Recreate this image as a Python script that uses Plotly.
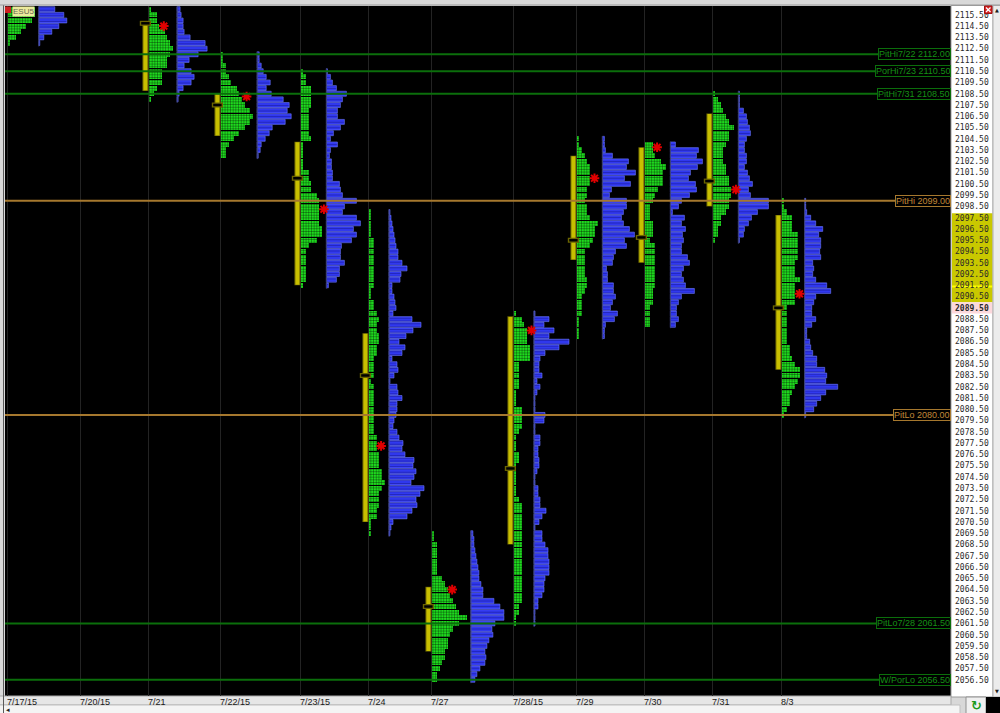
import plotly.graph_objects as go

# ---------------- data ----------------
dates = ["7/17/15", "7/20/15", "7/21", "7/22/15", "7/23/15", "7/24", "7/27",
         "7/28/15", "7/29", "7/30", "7/31", "8/3"]
# session start positions on the (time) x axis
session_x = [7, 80, 148, 220, 300, 368, 431, 513, 576, 644, 712, 781]

profile_days = ["7/17/15", "7/21", "7/22/15", "7/23/15", "7/24", "7/27",
                "7/28/15", "7/29", "7/30", "7/31", "8/3"]
profile_top = [2116.0, 2116.0, 2112.0, 2110.5, 2098.0, 2069.5,
               2089.0, 2104.5, 2104.0, 2108.5, 2099.0]

# TPO counts (green) and volume (blue) per 0.50 price row, from top to bottom
tpo_0717 = [10, 10, 9, 7, 5, 3, 1]
vol_0717 = [16, 25, 28, 20, 13, 5, 1]
tpo_0721 = [1, 3, 3, 4, 6, 7, 8, 9, 8, 7, 7, 5, 5, 5, 3, 2, 1]
vol_0721 = [3, 4, 6, 6, 7, 13, 28, 30, 21, 12, 7, 14, 17, 14, 6, 2, 1]
tpo_0722 = [1, 1, 2, 2, 3, 4, 6, 7, 8, 9, 11, 12, 11, 9, 7, 5, 3, 2, 2]
vol_0722 = [2, 2, 4, 6, 9, 13, 9, 14, 26, 32, 30, 34, 28, 15, 12, 8, 4, 3, 1]
tpo_0723 = [1, 2, 2, 4, 4, 4, 4, 3, 3, 3, 3, 3, 4, 1, 1, 1, 1, 1, 3, 3,
            4, 4, 6, 7, 7, 7, 7, 7, 8, 8, 6, 3, 2, 2, 2, 2, 2, 2, 1]
vol_0723 = [1, 4, 6, 10, 20, 16, 14, 11, 11, 18, 14, 7, 4, 11, 4, 3, 5, 5, 6, 6,
            13, 14, 16, 30, 18, 16, 30, 34, 27, 30, 25, 15, 14, 14, 18, 13, 13, 10, 2]
tpo_0724 = [1, 1, 1, 1, 1, 2, 2, 2, 2, 2, 2, 2, 2, 2, 1, 1, 2, 2, 3, 4,
            3, 3, 4, 4, 3, 3, 2, 2, 2, 2, 1, 2, 2, 2, 2, 2, 2, 2, 2, 2,
            3, 3, 3, 4, 4, 4, 5, 5, 6, 5, 4, 4, 4, 3, 3, 1, 1, 1]
vol_0724 = [1, 2, 3, 4, 5, 6, 7, 9, 9, 13, 18, 12, 11, 3, 3, 5, 6, 7, 4, 23,
            32, 24, 17, 10, 16, 13, 3, 8, 9, 5, 1, 8, 9, 13, 8, 8, 7, 5, 4, 8,
            10, 14, 13, 16, 25, 24, 27, 25, 22, 35, 31, 27, 28, 23, 18, 4, 2, 1]
tpo_0727 = [1, 1, 2, 2, 2, 2, 2, 2, 4, 5, 6, 7, 8, 9, 10, 13, 10, 8, 7, 6,
            6, 5, 5, 4, 3, 2, 2]
vol_0727 = [2, 3, 3, 4, 5, 6, 7, 8, 8, 10, 12, 12, 23, 29, 33, 33, 24, 21, 22, 18,
            16, 14, 15, 14, 9, 6, 4]
tpo_0728 = [1, 3, 4, 5, 5, 5, 6, 6, 6, 2, 2, 2, 2, 2, 1, 1, 1, 3, 3, 3,
            3, 2, 1, 1, 1, 2, 2, 1, 1, 1, 1, 1, 1, 2, 3, 3, 3, 3, 3, 3,
            3, 3, 3, 3, 3, 3, 3, 3, 3, 3, 3, 3, 2, 2, 1, 1]
vol_0728 = [1, 15, 10, 20, 15, 35, 25, 11, 6, 5, 5, 8, 3, 6, 3, 1, 1, 1, 11, 10,
            1, 1, 6, 6, 4, 4, 5, 5, 3, 1, 1, 4, 4, 6, 6, 12, 8, 5, 1, 8,
            8, 11, 14, 14, 15, 15, 15, 11, 10, 10, 8, 4, 4, 1, 1, 1]
tpo_0729 = [1, 1, 2, 3, 4, 5, 5, 5, 5, 4, 4, 3, 4, 4, 5, 8, 7, 7, 6, 5,
            3, 3, 3, 3, 3, 4, 4, 3, 2, 2, 2, 2, 1, 1, 1, 1]
vol_0729 = [2, 2, 3, 10, 26, 24, 33, 22, 28, 9, 7, 24, 24, 21, 19, 21, 27, 32, 22, 24,
            13, 11, 10, 4, 5, 5, 11, 11, 13, 10, 8, 15, 12, 3, 2, 2]
tpo_0730 = [3, 3, 4, 6, 8, 7, 7, 7, 5, 4, 3, 2, 2, 2, 3, 3, 3, 2, 4, 4,
            4, 4, 4, 4, 4, 4, 3, 3, 3, 2, 2, 2, 2]
vol_0730 = [5, 28, 26, 32, 27, 20, 18, 25, 26, 19, 11, 8, 2, 14, 11, 15, 12, 13, 11, 11,
            17, 19, 13, 11, 13, 15, 24, 11, 8, 6, 6, 8, 5]
tpo_0731 = [1, 2, 3, 4, 5, 6, 8, 6, 6, 5, 4, 4, 4, 5, 5, 6, 6, 7, 7, 6,
            6, 5, 3, 3, 2, 2, 1]
vol_0731 = [1, 1, 1, 5, 8, 9, 11, 12, 8, 6, 6, 8, 8, 6, 9, 11, 14, 10, 12, 30,
            30, 19, 13, 10, 6, 5, 1]
tpo_0803 = [1, 1, 2, 4, 4, 4, 6, 6, 6, 6, 6, 5, 5, 5, 7, 5, 5, 5, 5, 2,
            2, 2, 2, 2, 2, 2, 3, 3, 4, 5, 7, 7, 6, 5, 4, 3, 3, 2, 1]
vol_0803 = [1, 1, 2, 6, 11, 18, 14, 16, 16, 15, 16, 8, 9, 8, 11, 22, 26, 11, 9, 7,
            7, 11, 7, 2, 2, 5, 6, 8, 12, 12, 20, 22, 21, 33, 21, 16, 12, 9, 1]

tpo_profiles = [tpo_0717, tpo_0721, tpo_0722, tpo_0723, tpo_0724, tpo_0727,
                tpo_0728, tpo_0729, tpo_0730, tpo_0731, tpo_0803]
vol_profiles = [vol_0717, vol_0721, vol_0722, vol_0723, vol_0724, vol_0727,
                vol_0728, vol_0729, vol_0730, vol_0731, vol_0803]

# value area (yellow bar), point of control notch, open marker (red asterisk)
va_high = [None, 2114.75, 2108.5, 2104.25, 2087.25, 2064.75, 2088.75, 2103.0, 2103.75, 2106.75, 2097.75]
va_low = [None, 2108.75, 2104.75, 2091.5, 2070.5, 2059.0, 2068.5, 2093.75, 2093.5, 2098.5, 2084.0]
poc_mark = [None, 2114.75, 2107.5, 2101.0, 2083.5, 2063.0, 2075.25, 2095.5, 2095.75, 2100.75, 2089.5]
open_mark = [None, 2114.5, 2108.25, 2098.25, 2077.25, 2064.5, 2087.5, 2101.0, 2103.75, 2100.0, 2090.75]

# reference levels
ref_names = ["PitHi7/22", "PorHi7/23", "PitHi7/31", "PitHi", "PitLo", "PitLo7/28", "W/PorLo"]
ref_prices = [2112.00, 2110.50, 2108.50, 2099.00, 2080.00, 2061.50, 2056.50]
ref_kind = ["prior", "prior", "prior", "pit", "pit", "prior", "prior"]

last_price = 2089.50
band_low, band_high = 2090.0, 2097.9
mark_price = 2091.4

# ---------------- styling ----------------
ROW = 0.5
TPO_W = 2.7
GREEN = "#1edc1e"
BLUE = "#3038f0"
BLUE_EDGE = "#6c78ff"
VA_COL = "#c8bf00"
VA_EDGE = "#6b6500"
REF_COL = {"prior": ("#0b6e0b", "#159015"), "pit": ("#a6782e", "#c08838")}

Y0, Y1 = 2055.06, 2116.285
X0, X1 = 5, 951


def px(xp):
    return (xp - X0) / (X1 - X0)


def py(yp):
    return (696 - yp) / 690


fig = go.Figure()

for d, top, tpo, vol, vh, vl, pm, om in zip(profile_days, profile_top, tpo_profiles,
                                             vol_profiles, va_high, va_low, poc_mark, open_mark):
    sx = session_x[dates.index(d)]
    g0 = sx + 0.5
    prices = [top - ROW * i for i in range(len(tpo))]
    fig.add_trace(go.Bar(
        y=prices, x=[c * TPO_W for c in tpo], base=g0, orientation="h", width=0.46,
        marker=dict(color=GREEN, line_width=0,
                    pattern=dict(shape="+", fgcolor="#000000", bgcolor=GREEN, size=2.7,
                                 solidity=0.22, fillmode="replace")),
        hoverinfo="skip", showlegend=False))
    b0 = g0 + max(tpo) * TPO_W + 4.3
    fig.add_trace(go.Scatter(x=[b0, b0], y=[prices[-1] - 0.3, prices[0] + 0.25], mode="lines",
                             line=dict(color="#3a3f78", width=1), hoverinfo="skip", showlegend=False))
    fig.add_trace(go.Bar(
        y=prices, x=vol, base=b0, orientation="h", width=0.44,
        marker=dict(color=BLUE, line=dict(color=BLUE_EDGE, width=0.6),
                    pattern=dict(shape="-", fgcolor="#14148a", bgcolor=BLUE, size=2.8,
                                 solidity=0.18, fillmode="replace")),
        hoverinfo="skip", showlegend=False))
    if vh is not None:
        xb = sx - 2.6
        fig.add_trace(go.Scatter(x=[xb, xb], y=[vl, vh], mode="lines",
                                 line=dict(color=VA_EDGE, width=6), hoverinfo="skip", showlegend=False))
        fig.add_trace(go.Scatter(x=[xb, xb], y=[vl + 0.05, vh - 0.05], mode="lines",
                                 line=dict(color=VA_COL, width=4), hoverinfo="skip", showlegend=False))
        fig.add_trace(go.Scatter(x=[xb], y=[pm], mode="markers",
                                 marker=dict(symbol="line-ew", size=8, line=dict(color=VA_EDGE, width=5)),
                                 hoverinfo="skip", showlegend=False))
        fig.add_trace(go.Scatter(x=[xb], y=[pm], mode="markers",
                                 marker=dict(symbol="line-ew", size=6, line=dict(color="#000000", width=2.5)),
                                 hoverinfo="skip", showlegend=False))
    if om is not None:
        k = min(max(int(round((top - om) / ROW)), 0), len(tpo) - 1)
        fig.add_trace(go.Scatter(x=[g0 + tpo[k] * TPO_W + 4.5], y=[om], mode="markers",
                                 marker=dict(symbol="asterisk-open", size=8, color="#e00000",
                                             line=dict(color="#e00000", width=2)),
                                 hoverinfo="skip", showlegend=False))

shapes = []
annotations = []

# reference level lines and labels
for name, price, kind in zip(ref_names, ref_prices, ref_kind):
    lc, tc = REF_COL[kind]
    shapes.append(dict(type="line", xref="paper", yref="y", x0=0, x1=1, y0=price, y1=price,
                       line=dict(color=lc, width=2), layer="above"))
    annotations.append(dict(xref="paper", yref="y", x=1, y=price, xanchor="right", yanchor="middle",
                            text=f"{name} {price:.2f}", showarrow=False,
                            font=dict(family="Liberation Sans", size=9, color=tc),
                            bgcolor="#000000", bordercolor=lc, borderwidth=1, borderpad=0))

# date labels
for d, sx in zip(dates, session_x):
    annotations.append(dict(xref="x", yref="paper", x=sx, y=0, xanchor="left", yanchor="top",
                            xshift=-1, yshift=0, text=d, showarrow=False, borderpad=0,
                            font=dict(family="Liberation Sans", size=9, color="#1a1a1a")))

# chrome: price column, highlight, scrollbars, buttons
shapes += [
    dict(type="rect", xref="paper", yref="paper", x0=px(951), x1=px(993), y0=py(697), y1=py(5.5),
         fillcolor="#ffffff", line=dict(color="#9a9a9a", width=1), layer="below"),
    dict(type="rect", xref="paper", yref="y", x0=px(952), x1=px(992.5), y0=band_low, y1=band_high,
         fillcolor="#c9c800", line_width=0, layer="below"),
    dict(type="rect", xref="paper", yref="y", x0=px(952), x1=px(992.5), y0=last_price - 0.5,
         y1=last_price + 0.5, fillcolor="#fcd8dc", line_width=0, layer="below"),
    dict(type="line", xref="paper", yref="y", x0=px(952), x1=px(992.5), y0=mark_price, y1=mark_price,
         line=dict(color="#ffff00", width=2), layer="below"),
    dict(type="rect", xref="paper", yref="paper", x0=px(993), x1=px(1000.5), y0=py(697), y1=py(5.5),
         fillcolor="#ececec", line=dict(color="#b0b0b0", width=1), layer="below"),
    dict(type="rect", xref="paper", yref="paper", x0=px(-1), x1=px(951), y0=py(705), y1=py(696),
         fillcolor="#e6e6e6", line=dict(color="#a8a8a8", width=1), layer="below"),
    dict(type="rect", xref="paper", yref="paper", x0=px(-1), x1=px(960), y0=py(714), y1=py(705),
         fillcolor="#f4f4f4", line=dict(color="#c0c0c0", width=1), layer="below"),
    dict(type="rect", xref="paper", yref="paper", x0=px(966), x1=px(986), y0=py(714), y1=py(697),
         fillcolor="#f0f0f0", line=dict(color="#909090", width=1), layer="below"),
    dict(type="rect", xref="paper", yref="paper", x0=px(986), x1=px(1001), y0=py(714), y1=py(697),
         fillcolor="#000000", line_width=0, layer="below"),
    dict(type="line", xref="paper", yref="paper", x0=px(3.5), x1=px(3.5), y0=py(714), y1=py(5),
         line=dict(color="#5a5a5a", width=1), layer="below"),
    dict(type="line", xref="paper", yref="paper", x0=px(0), x1=px(1000), y0=py(5), y1=py(5),
         line=dict(color="#9a9a9a", width=1), layer="below"),
    dict(type="rect", xref="paper", yref="paper", x0=px(5), x1=px(11), y0=py(13), y1=py(6.5),
         fillcolor="#cc2020", line_width=0, layer="above"),
    # close button (red square with white cross)
    dict(type="rect", xref="paper", yref="paper", x0=px(984.5), x1=px(992), y0=py(13.5), y1=py(6),
         fillcolor="#d42222", line=dict(color="#a01010", width=1), layer="above"),
    dict(type="line", xref="paper", yref="paper", x0=px(986), x1=px(990.5), y0=py(12), y1=py(7.5),
         line=dict(color="#ffffff", width=1.2), layer="above"),
    dict(type="line", xref="paper", yref="paper", x0=px(986), x1=px(990.5), y0=py(7.5), y1=py(12),
         line=dict(color="#ffffff", width=1.2), layer="above"),
]
annotations += [
    dict(xref="paper", yref="paper", x=px(11.5), y=py(6), xanchor="left", yanchor="top", text="ESU5",
         showarrow=False, font=dict(family="Liberation Sans", size=8, color="#6a6a50"),
         bgcolor="#ecea9c", borderpad=0),
    dict(xref="paper", yref="paper", x=px(996.5), y=py(10), xanchor="center", yanchor="middle",
         text="▲", showarrow=False, font=dict(family="DejaVu Sans", size=5, color="#202020")),
    dict(xref="paper", yref="paper", x=px(996.5), y=py(691), xanchor="center", yanchor="middle",
         text="▼", showarrow=False, font=dict(family="DejaVu Sans", size=5, color="#202020")),
    dict(xref="paper", yref="paper", x=px(8), y=py(709.5), xanchor="center", yanchor="middle",
         text="◂", showarrow=False, font=dict(family="DejaVu Sans", size=7, color="#202020")),
    dict(xref="paper", yref="paper", x=px(976), y=py(705.5), xanchor="center", yanchor="middle",
         text="<b>↻</b>", showarrow=False, font=dict(family="DejaVu Sans", size=13, color="#1a9a1a")),
]

tick_vals = [2056.5 + i for i in range(60)]
tick_text = [f"<b>{v:.2f}</b>" if v == last_price else f"{v:.2f}" for v in tick_vals]

fig.update_layout(
    width=1000, height=713,
    margin=dict(l=X0, r=1000 - X1, t=6, b=17),
    paper_bgcolor="#d8d8d8", plot_bgcolor="#000000",
    barmode="overlay", bargap=0, showlegend=False,
    xaxis=dict(range=[X0, X1], tickvals=session_x, showticklabels=False, ticks="",
               showgrid=True, gridcolor="#232323", gridwidth=1, zeroline=False,
               showline=False, fixedrange=True, automargin=False),
    yaxis=dict(range=[Y0, Y1], side="right", tickvals=tick_vals, ticktext=tick_text,
               showgrid=False, zeroline=False, ticks="", showline=False,
               tickfont=dict(family="DejaVu Sans Mono", size=8, color="#2a2a2a"),
               ticklabelstandoff=3, fixedrange=True, automargin=False),
    shapes=shapes, annotations=annotations,
)

fig.write_html("out.html", config={"displayModeBar": False, "staticPlot": True},
               post_script="document.body.style.margin='0px';document.body.style.overflow='hidden';")
